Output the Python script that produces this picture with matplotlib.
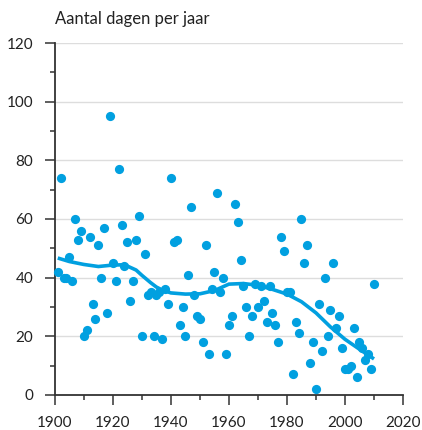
import numpy as np
import matplotlib.pyplot as plt
from matplotlib.ticker import MultipleLocator

years = np.arange(1901, 2011)
days = [42, 74, 40, 40, 47, 39, 60, 53, 56, 20,
        22, 54, 31, 26, 51, 40, 57, 28, 95, 45,
        39, 77, 58, 44, 52, 32, 39, 53, 61, 20,
        48, 34, 35, 20, 34, 35, 19, 36, 31, 74,
        52, 53, 24, 30, 20, 41, 64, 34, 27, 26,
        18, 51, 14, 36, 42, 69, 35, 40, 14, 24,
        27, 65, 59, 46, 37, 30, 20, 27, 38, 30,
        37, 32, 25, 37, 28, 24, 18, 54, 49, 35,
        35, 7, 25, 21, 60, 45, 51, 11, 18, 2,
        31, 15, 40, 20, 29, 45, 23, 27, 16, 9,
        9, 10, 23, 6, 18, 16, 12, 14, 9, 38]

trend_years = [1901, 1905, 1910, 1915, 1920, 1924, 1928, 1930, 1933, 1935,
               1937, 1940, 1945, 1950, 1955, 1960, 1965, 1970, 1975, 1980,
               1985, 1990, 1995, 2000, 2005, 2010]
trend_days = [46.7, 45.5, 44.5, 43.8, 44.3, 44.4, 42.6, 40.8, 38.3, 36.8,
              35.8, 34.8, 34.4, 34.5, 35.6, 37.8, 38.0, 37.4, 36.0, 34.4,
              31.8, 28.0, 23.2, 19.0, 15.6, 12.3]

blue = '#01a0e0'
dark = '#333333'

plt.rcParams['font.family'] = ['Lato', 'DejaVu Sans']

fig = plt.figure(figsize=(4.22, 4.30), dpi=100)
ax = fig.add_axes([0.130, 0.0814, 0.825, 0.8186])

ax.scatter(years, days, s=44, color=blue, linewidths=0, zorder=3, clip_on=False)
ax.plot(trend_years, trend_days, color=blue, lw=2.6, zorder=4,
        solid_capstyle='butt')

ax.set_xlim(1900, 2020)
ax.set_ylim(0, 120)
ax.xaxis.set_major_locator(MultipleLocator(20))
ax.xaxis.set_minor_locator(MultipleLocator(10))
ax.yaxis.set_major_locator(MultipleLocator(20))
ax.yaxis.set_minor_locator(MultipleLocator(10))

ax.grid(axis='y', which='major', color='#dddddd', lw=1.0, zorder=0)
ax.set_axisbelow(True)

for side in ['top', 'right']:
    ax.spines[side].set_visible(False)
for side in ['left', 'bottom']:
    ax.spines[side].set_color(dark)
    ax.spines[side].set_linewidth(1.3)

ax.tick_params(which='major', length=7.5, width=1.1, color=dark,
               labelsize=11, labelcolor='#222222', pad=8)
ax.tick_params(axis='x', which='major', pad=7.5)
ax.tick_params(which='minor', length=3.8, width=1.1, color=dark)

ax.text(0.0, 1.045, 'Aantal dagen per jaar', transform=ax.transAxes,
        fontsize=12, color='#222222', ha='left', va='bottom')

fig.savefig('out.png', dpi=100)
